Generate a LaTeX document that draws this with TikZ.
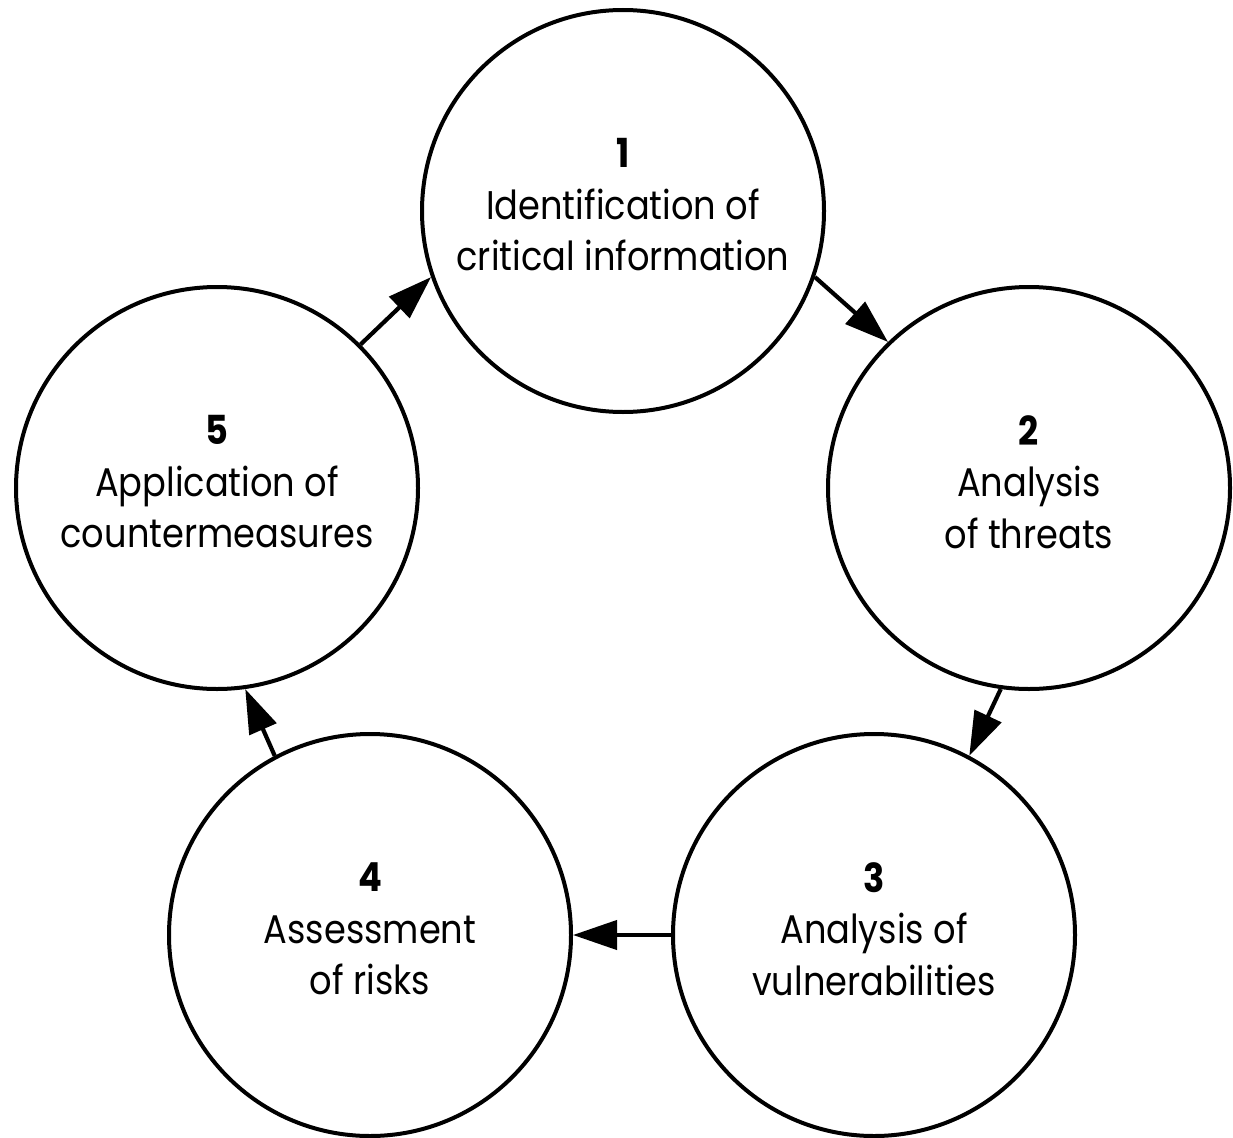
\documentclass[tikz,border=0pt]{standalone}
\usepackage{fontspec}
\setmainfont{Poppins}[FakeStretch=0.88]
\usetikzlibrary{arrows.meta}
\tikzset{
  stage/.style={circle, draw=black, line width=4pt, minimum size=402pt,
    inner sep=0pt},
  caption/.style={align=center, inner sep=0pt,
    font=\fontsize{40}{51.5}\selectfont},
  flow/.style={line width=4.2pt, -{Triangle[length=44pt,width=29pt]}}
}
\begin{document}
\begin{tikzpicture}[x=1pt,y=-1pt]
  \useasboundingbox (0,0) rectangle (1233,1137);
  % the five stages of the cycle
  \node[stage] (s1) at (623,211) {};
  \node[stage] (s2) at (1029,488) {};
  \node[stage] (s3) at (874,935) {};
  \node[stage] (s4) at (370,935) {};
  \node[stage] (s5) at (217,488) {};
  % stage captions
  \node[caption] (t1) at (623,205) {\textbf{1}\\Identification of\\critical information};
  \node[caption] (t2) at (1029,482) {\textbf{2}\\Analysis\\of threats};
  \node[caption] (t3) at (874,929) {\textbf{3}\\Analysis of\\vulnerabilities};
  \node[caption] (t4) at (370,929) {\textbf{4}\\Assessment\\of risks};
  \node[caption] (t5) at (217,482) {\textbf{5}\\Application of\\countermeasures};
  % arrows between consecutive stages
  \draw[flow] (s1.-19.5) -- (s2.134.5);
  \draw[flow] (s2.-98) -- (s3.62);
  \draw[flow] (s3.west) -- (s4.east);
  \draw[flow] (s4.118) -- (s5.-82);
  \draw[flow] (s5.45.5) -- (s1.199.5);
\end{tikzpicture}
\end{document}
